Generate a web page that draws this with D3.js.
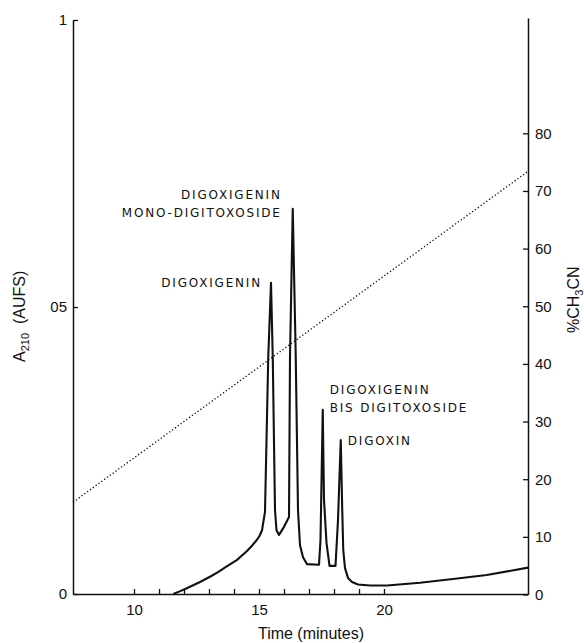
<!DOCTYPE html>
<html>
<head>
<meta charset="utf-8">
<script src="https://cdn.jsdelivr.net/npm/d3@7"></script>
<style>
  html, body { margin: 0; padding: 0; background: #fff; }
  svg { display: block; }
  .num { font-family: "Liberation Sans", Arial, sans-serif; font-size: 15px; fill: #111; }
  .peak { font-family: "DejaVu Sans", sans-serif; font-size: 12px; letter-spacing: 1.8px; fill: #111; }
  .title { font-family: "Liberation Sans", Arial, sans-serif; font-size: 16px; fill: #111; }
</style>
</head>
<body>
<svg id="chart" width="584" height="643"></svg>
<script>
// ---- data ----
const traceTime = [11.57, 11.85, 12.11, 12.6, 13.04, 13.36, 13.71, 14.11, 14.52, 14.72,
                   14.91, 15.02, 15.12, 15.24, 15.37, 15.48, 15.55, 15.64, 15.70, 15.80,
                   16.00, 16.20, 16.24, 16.35, 16.47, 16.56, 16.64, 16.76, 16.92, 17.40,
                   17.46, 17.55, 17.60, 17.70, 17.82, 18.06, 18.16, 18.27, 18.33, 18.37,
                   18.44, 18.56, 18.72, 18.96, 19.44, 20.12, 21.44, 22.76, 24.11, 25.76];
const traceAbs  = [0, 0.005, 0.010, 0.020, 0.030, 0.038, 0.048, 0.059, 0.075, 0.084,
                   0.094, 0.101, 0.111, 0.143, 0.413, 0.542, 0.413, 0.146, 0.111, 0.103,
                   0.117, 0.134, 0.413, 0.671, 0.413, 0.146, 0.085, 0.064, 0.052, 0.051,
                   0.094, 0.321, 0.164, 0.089, 0.049, 0.049, 0.129, 0.268, 0.146, 0.077,
                   0.045, 0.028, 0.021, 0.0166, 0.0148, 0.0148, 0.0197, 0.026, 0.033, 0.046];
const gradientTime = [7.56, 25.76];
const gradientPct  = [16, 73.4];

const peakLines  = [["DIGOXIGENIN"], ["DIGOXIGENIN", "MONO-DIGITOXOSIDE"], ["DIGOXIGENIN", "BIS DIGITOXOSIDE"], ["DIGOXIN"]];
const peakTimes  = [15.48, 16.35, 17.55, 18.27];
const peakAbs    = [0.542, 0.671, 0.321, 0.268];

const xTicks = [10, 11, 12, 13, 14, 15, 16, 17, 18, 19, 20];
const xTickLabels = ["10", "", "", "", "", "15", "", "", "", "", "20"];
const leftTicks = [0, 0.5, 1];
const leftTickLabels = ["0", "05", "1"];
const rightTicks = [0, 10, 20, 30, 40, 50, 60, 70, 80];
const rightTickLabels = ["0", "10", "20", "30", "40", "50", "60", "70", "80"];

// ---- scales ----
const svg = d3.select("#chart");
const x  = d3.scaleLinear().domain([7.56, 25.76]).range([73, 528]);
const yA = d3.scaleLinear().domain([0, 1]).range([594, 20]);
const yP = d3.scaleLinear().domain([0, 100]).range([594.5, 18]);

// ---- axes ----
function styleAxis(g) {
  g.select(".domain").attr("stroke", "#111").attr("stroke-width", 1.5);
  g.selectAll(".tick line").attr("stroke", "#111").attr("stroke-width", 1.3);
  g.selectAll(".tick text").attr("class", "num").attr("font-family", null).attr("font-size", null).attr("fill", null);
}

svg.append("g")
  .attr("transform", "translate(0,594)")
  .call(d3.axisBottom(x).tickValues(xTicks).tickSizeInner(-5).tickSizeOuter(0).tickPadding(10)
        .tickFormat((d, i) => xTickLabels[i]))
  .call(styleAxis);

svg.append("g")
  .attr("transform", "translate(73,0)")
  .call(d3.axisLeft(yA).tickValues(leftTicks).tickSizeInner(-5).tickSizeOuter(0).tickPadding(6)
        .tickFormat((d, i) => leftTickLabels[i]))
  .call(styleAxis);

svg.append("g")
  .attr("transform", "translate(528,0)")
  .call(d3.axisRight(yP).tickValues(rightTicks).tickSizeInner(-5).tickSizeOuter(0).tickPadding(7)
        .tickFormat((d, i) => rightTickLabels[i]))
  .call(styleAxis);

// ---- gradient (dotted) ----
const gradData = gradientTime.map((t, i) => ({ t, p: gradientPct[i] }));
svg.append("path")
  .datum(gradData)
  .attr("fill", "none")
  .attr("stroke", "#111")
  .attr("stroke-width", 1.3)
  .attr("stroke-dasharray", "1.3,2.2")
  .attr("d", d3.line().x(d => x(d.t)).y(d => yP(d.p)));

// ---- chromatogram trace ----
const traceData = traceTime.map((t, i) => ({ t, a: traceAbs[i] }));
svg.append("path")
  .datum(traceData)
  .attr("fill", "none")
  .attr("stroke", "#111")
  .attr("stroke-width", 2.1)
  .attr("stroke-linejoin", "round")
  .attr("d", d3.line().x(d => x(d.t)).y(d => yA(d.a)));

// ---- peak labels ----
const labelLayout = [
  { anchor: "end",   dx: -9,  dy: [4.5] },
  { anchor: "end",   dx: -11, dy: [-9.5, 8.5] },
  { anchor: "start", dx: 7,   dy: [-15.5, 2.5] },
  { anchor: "start", dx: 7,   dy: [4.5] }
];
peakLines.forEach((lines, i) => {
  const L = labelLayout[i];
  const t = svg.append("text").attr("class", "peak").attr("text-anchor", L.anchor);
  lines.forEach((s, j) => {
    t.append("tspan")
      .attr("x", x(peakTimes[i]) + L.dx)
      .attr("y", yA(peakAbs[i]) + L.dy[j])
      .text(s);
  });
});

// ---- axis titles ----
svg.append("text").attr("class", "title")
  .attr("x", 311).attr("y", 639).attr("text-anchor", "middle")
  .text("Time (minutes)");

const lt = svg.append("text").attr("class", "title")
  .attr("transform", "translate(25,362) rotate(-90)")
  .attr("text-anchor", "start");
lt.append("tspan").text("A");
lt.append("tspan").attr("dy", 4).attr("font-size", 11).text("210");
lt.append("tspan").attr("dy", -4).text("\u00A0\u00A0(AUFS)");

const rt = svg.append("text").attr("class", "title")
  .attr("transform", "translate(579,333) rotate(-90)")
  .attr("text-anchor", "start");
rt.append("tspan").text("%CH");
rt.append("tspan").attr("dy", 4).attr("font-size", 11).text("3");
rt.append("tspan").attr("dy", -4).text("CN");
</script>
</body>
</html>
